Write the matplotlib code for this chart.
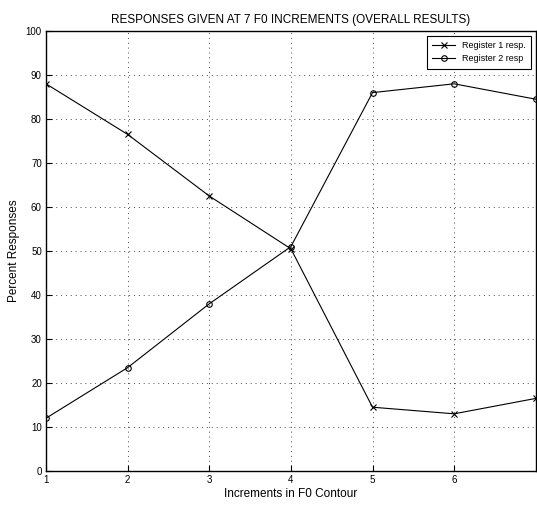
import matplotlib
matplotlib.use("Agg")
import matplotlib.pyplot as plt
from matplotlib import font_manager

# data
increments = [1, 2, 3, 4, 5, 6, 7]
register1_resp = [88, 76.5, 62.5, 50.5, 14.5, 13, 16.5]
register2_resp = [12, 23.5, 38, 51, 86, 88, 84.5]
x_ticks = [1, 2, 3, 4, 5, 6]
y_ticks = [0, 10, 20, 30, 40, 50, 60, 70, 80, 90, 100]

names = {f.name for f in font_manager.fontManager.ttflist}
if 'Liberation Sans Narrow' in names:
    plt.rcParams['font.family'] = ['Liberation Sans Narrow', 'DejaVu Sans']
else:
    plt.rcParams['font.family'] = ['Liberation Sans', 'DejaVu Sans']

fig = plt.figure(figsize=(5.37, 5.05), dpi=100)
ax = fig.add_axes([0.0857, 0.0673, 0.912, 0.8713])

ax.plot(increments, register1_resp, color='black', linewidth=0.8,
        marker='x', markersize=4, markeredgewidth=0.8, label='Register 1 resp.')
ax.plot(increments, register2_resp, color='black', linewidth=0.8,
        marker='o', markersize=4, markerfacecolor='none', markeredgewidth=0.8,
        label='Register 2 resp')

ax.set_xlim(1, 7)
ax.set_ylim(0, 100)
ax.set_xticks(x_ticks)
ax.set_yticks(y_ticks)
ax.tick_params(direction='in', labelsize=7, length=4, pad=3)
# sparse dotted grid like the scanned figure
ax.grid(True, linestyle=(0, (1, 4)), color='black', linewidth=0.7, alpha=0.7)
for s in ax.spines.values():
    s.set_linewidth(1.0)

ax.set_title('RESPONSES GIVEN AT 7 F0 INCREMENTS (OVERALL RESULTS)', fontsize=8.5, pad=6)
ax.set_xlabel('Increments in F0 Contour', fontsize=8.5, labelpad=2)
ax.set_ylabel('Percent Responses', fontsize=8.5, labelpad=4)

leg = ax.legend(loc='upper right', fontsize=6.5, fancybox=False, framealpha=1,
                edgecolor='black', handlelength=2.5, borderpad=0.6)
leg.get_frame().set_linewidth(0.8)

plt.savefig('out.png', dpi=100)
plt.close()
